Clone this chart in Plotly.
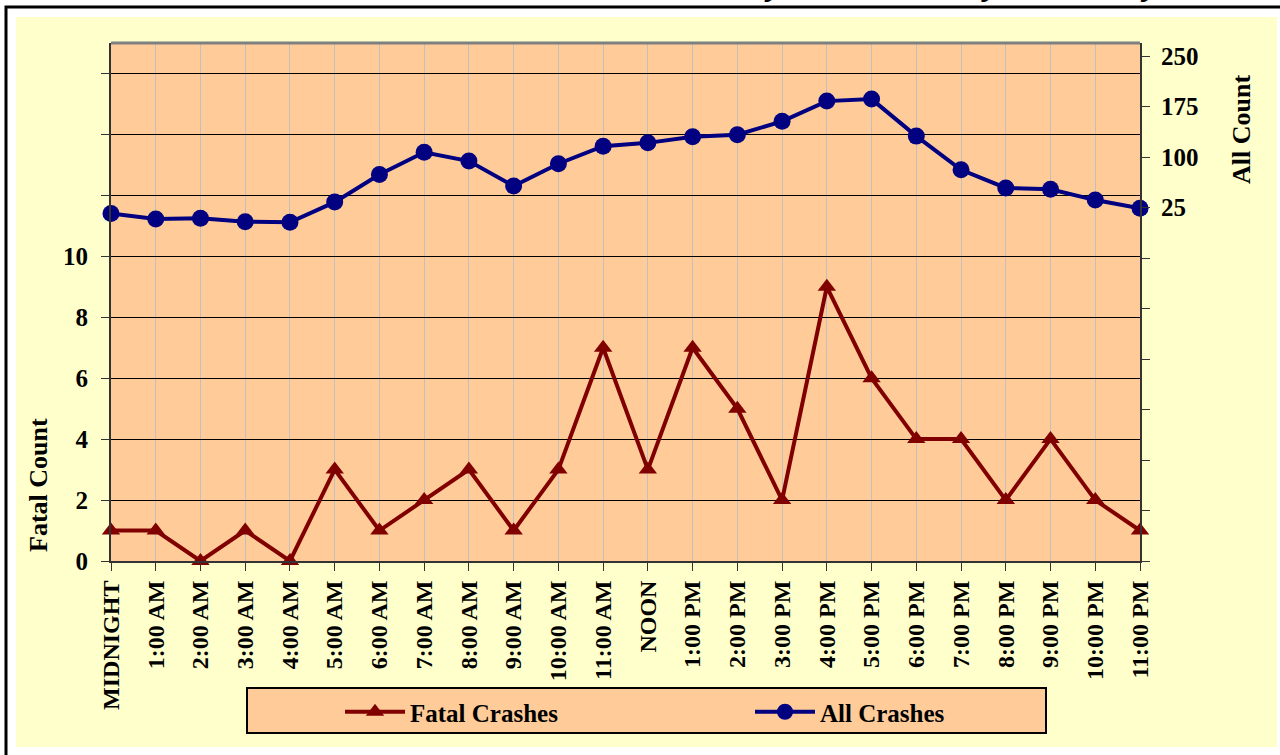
import plotly.graph_objects as go

# Hour-of-day categories
hours = [
    "MIDNIGHT", "1:00 AM", "2:00 AM", "3:00 AM", "4:00 AM", "5:00 AM",
    "6:00 AM", "7:00 AM", "8:00 AM", "9:00 AM", "10:00 AM", "11:00 AM",
    "NOON", "1:00 PM", "2:00 PM", "3:00 PM", "4:00 PM", "5:00 PM",
    "6:00 PM", "7:00 PM", "8:00 PM", "9:00 PM", "10:00 PM", "11:00 PM",
]

# Crash counts per hour
fatal_crashes = [1, 1, 0, 1, 0, 3, 1, 2, 3, 1, 3, 7, 3, 7, 5, 2, 9, 6, 4, 4, 2, 4, 2, 1]
all_crashes = [16, 8, 9, 4, 3, 33, 74, 107, 94, 57, 90, 116, 121, 130, 133, 153,
               183, 186, 131, 81, 54, 52, 36, 24]

# Axis ticks (upper part of the fatal axis and lower part of the all-crash axis are unlabeled)
fatal_tick_vals = [0, 2, 4, 6, 8, 10, 12, 14, 16]
fatal_tick_text = ["0", "2", "4", "6", "8", "10", "", "", ""]
all_tick_vals = [-500, -425, -350, -275, -200, -125, -50, 25, 100, 175, 250]
all_tick_text = ["", "", "", "", "", "", "", "25", "100", "175", "250"]

title_text = "Fatal and All Crashes by Hour and Day - Saturday"

W, H = 1280, 755
L, R, T, B = 111, 140, 43, 194
PW, PH = W - L - R, H - T - B


def px_x(p):
    return (p - L) / PW


def px_y(p):
    return (H - B - p) / PH


FONT = "Liberation Serif"
YELLOW = "#FFFFCC"
PEACH = "#FFCC99"
DARKRED = "#800000"
NAVY = "#000080"

fig = go.Figure()

fig.add_trace(go.Scatter(
    x=hours, y=fatal_crashes, name="Fatal Crashes", yaxis="y",
    mode="lines+markers", cliponaxis=False,
    line=dict(color=DARKRED, width=4),
    marker=dict(symbol="triangle-up", size=16, color=DARKRED),
))
fig.add_trace(go.Scatter(
    x=hours, y=all_crashes, name="All Crashes", yaxis="y2",
    mode="lines+markers", cliponaxis=False,
    line=dict(color=NAVY, width=4),
    marker=dict(symbol="circle", size=17, color=NAVY),
))

tick_font = dict(family=FONT, size=25, color="black", weight="bold")

shapes = [
    # chart background
    dict(type="rect", xref="paper", yref="paper", layer="below",
         x0=px_x(16), x1=px_x(1277), y0=px_y(747), y1=px_y(17),
         fillcolor=YELLOW, line=dict(width=0)),
    # outer frame
    dict(type="rect", xref="paper", yref="paper", layer="below",
         x0=px_x(6), x1=px_x(1300), y0=px_y(780), y1=px_y(7),
         fillcolor="rgba(0,0,0,0)", line=dict(color="black", width=3)),
    # plot area
    dict(type="rect", xref="paper", yref="paper", layer="below",
         x0=0, x1=1, y0=0, y1=1, fillcolor=PEACH, line=dict(width=0)),
    # legend box
    dict(type="rect", xref="paper", yref="paper", layer="below",
         x0=px_x(247), x1=px_x(1046), y0=px_y(733), y1=px_y(688),
         fillcolor=PEACH, line=dict(color="black", width=2)),
    # top edge of plot area
    dict(type="line", xref="paper", yref="paper", layer="above",
         x0=0, x1=1, y0=1, y1=1, line=dict(color="#808080", width=3)),
]

annotations = [
    dict(text="Fatal Count", xref="paper", yref="paper",
         x=px_x(38), y=px_y(485), textangle=-90, showarrow=False,
         xanchor="center", yanchor="middle",
         font=dict(family=FONT, size=26, color="black", weight="bold")),
    dict(text="All Count", xref="paper", yref="paper",
         x=px_x(1241), y=px_y(130), textangle=-90, showarrow=False,
         xanchor="center", yanchor="middle",
         font=dict(family=FONT, size=26, color="black", weight="bold")),
    # page title sitting above the frame
    dict(text=title_text, xref="paper", yref="paper",
         x=px_x(422), y=px_y(4), showarrow=False,
         xanchor="left", yanchor="bottom",
         font=dict(family=FONT, size=35, color="black", weight="bold", style="italic")),
]

fig.update_layout(
    width=W, height=H, autosize=False,
    margin=dict(l=L, r=R, t=T, b=B, pad=0),
    paper_bgcolor="white",
    plot_bgcolor="rgba(0,0,0,0)",
    showlegend=True,
    legend=dict(
        orientation="h", x=px_x(340), y=px_y(712),
        xanchor="left", yanchor="middle",
        bgcolor="rgba(0,0,0,0)", borderwidth=0,
        itemwidth=60, entrywidth=335, entrywidthmode="pixels",
        font=dict(family=FONT, size=25, color="black", weight="bold"),
    ),
    xaxis=dict(
        type="category", range=[0, len(hours) - 1],
        showgrid=True, gridcolor="#C0C0C0", gridwidth=1,
        showline=True, linecolor="#333333", linewidth=2,
        ticks="outside", ticklen=8, tickcolor="#333333",
        tickangle=-90, tickfont=dict(family=FONT, size=24, color="black", weight="bold"),
        zeroline=False, fixedrange=True,
    ),
    yaxis=dict(
        range=[0, 17],
        tickvals=fatal_tick_vals, ticktext=fatal_tick_text,
        showgrid=True, gridcolor="#000000", gridwidth=1,
        showline=True, linecolor="#333333", linewidth=2,
        ticks="outside", ticklen=8, tickcolor="#333333",
        ticklabelstandoff=8,
        tickfont=tick_font, zeroline=False, fixedrange=True,
    ),
    yaxis2=dict(
        range=[-500, 269.3], overlaying="y", side="right", anchor="x",
        tickvals=all_tick_vals, ticktext=all_tick_text,
        showgrid=False,
        showline=True, linecolor="#333333", linewidth=2,
        ticks="outside", ticklen=8, tickcolor="#333333",
        ticklabelstandoff=6,
        tickfont=tick_font, zeroline=False, fixedrange=True,
    ),
    yaxis3=dict(
        range=[-500, 269.3], overlaying="y", side="right", anchor="x",
        tickvals=all_tick_vals, showticklabels=False,
        showgrid=False, showline=False,
        ticks="inside", ticklen=9, tickcolor="#333333",
        zeroline=False, fixedrange=True,
    ),
    shapes=shapes,
    annotations=annotations,
)

fig.write_html("out.html")
